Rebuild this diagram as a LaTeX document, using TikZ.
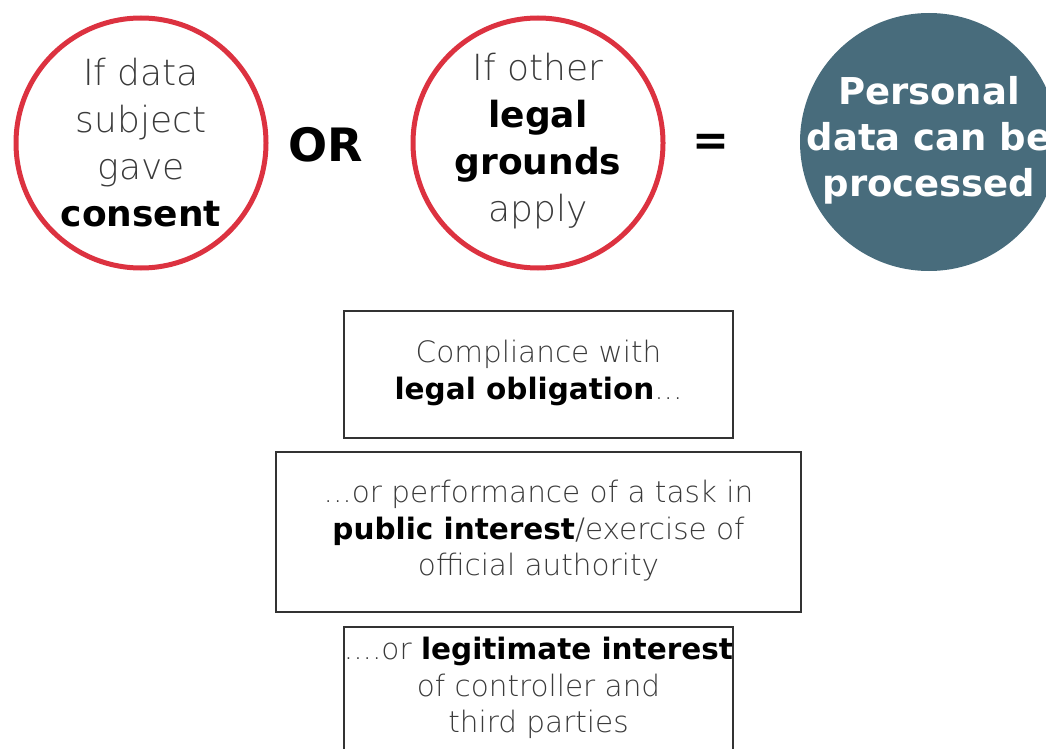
\documentclass[tikz,border=0pt]{standalone}
\usepackage{fontspec}
\setmainfont{DejaVu Sans}
\newfontfamily\xlfont{DejaVu Sans ExtraLight}
\definecolor{ringred}{HTML}{DC3240}
\definecolor{tealfill}{HTML}{486C7C}
\definecolor{boxline}{HTML}{333333}
\definecolor{lighttext}{HTML}{3A3A3A}
\newcommand\bd[1]{{\normalfont\bfseries\color{black}#1}}
\begin{document}
\begin{tikzpicture}[x=1pt,y=-1pt,
  ring/.style={circle,draw=ringred,line width=5pt,minimum size=250pt,inner sep=0pt},
  disc/.style={circle,fill=tealfill,minimum size=258pt,inner sep=0pt},
  circtext/.style={align=center,inner sep=0pt,text=lighttext,font=\xlfont\fontsize{36}{47}\selectfont},
  disctext/.style={align=center,inner sep=0pt,text=white,font=\bfseries\fontsize{37}{46}\selectfont},
  opsym/.style={inner sep=0pt,font=\bfseries\fontsize{46}{46}\selectfont},
  gbox/.style={rectangle,draw=boxline,line width=2.5pt,inner sep=0pt},
  boxtext/.style={align=center,inner sep=0pt,text=lighttext,font=\xlfont\fontsize{29.5}{36.5}\selectfont}]
\useasboundingbox (0,0) rectangle (1046,749);
\clip (0,0) rectangle (1046,749);
% circles
\node[ring] (c1) at (141,143) {};
\node[ring] (c2) at (538,143) {};
\node[disc] (c3) at (929,142) {};
\node[circtext] (t1) at (141,143) {If data\\subject\\gave\\\bd{consent}};
\node[circtext] (t2) at (538,141) {If other\\\bd{legal}\\\bd{grounds}\\apply};
\node[disctext] (t3) at (929,140) {Personal\\data can be\\processed};
\node[opsym] (or) at (326,145) {OR};
\node[opsym,font=\bfseries\fontsize{44}{44}\selectfont] (eq) at (711,145) {=};
% boxes
\node[gbox,minimum width=389pt,minimum height=127pt] (b1) at (538.5,374.5) {};
\node[gbox,minimum width=525pt,minimum height=160pt] (b2) at (538.5,532) {};
\node[gbox,minimum width=389pt,minimum height=160pt] (b3) at (538.5,707) {};
\node[boxtext] (bt1) at (538.5,373) {Compliance with\\\bd{legal obligation}...};
\node[boxtext] (bt2) at (538.5,531) {...or performance of a task in\\\bd{public interest}/exercise of\\official authority};
\node[boxtext] (bt3) at (538.5,688) {....or \bd{legitimate interest}\\of controller and\\third parties};
\end{tikzpicture}
\end{document}
